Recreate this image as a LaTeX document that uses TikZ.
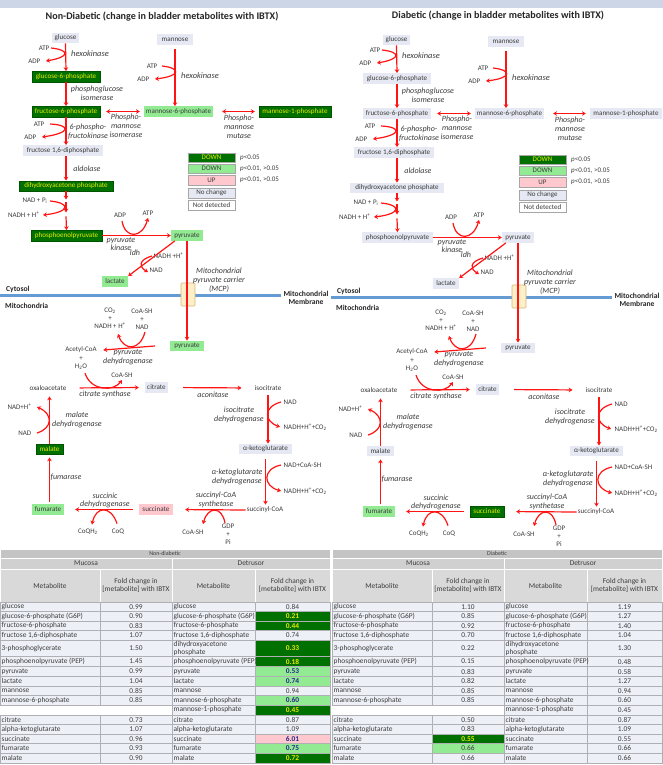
\documentclass[tikz,border=0pt]{standalone}
\usepackage{fontspec}
\setmainfont{Carlito}
\usetikzlibrary{arrows.meta}
\definecolor{dg}{RGB}{0,112,0}
\definecolor{lg}{RGB}{146,234,146}
\definecolor{pk}{RGB}{255,199,206}
\definecolor{nc}{RGB}{230,233,243}
\definecolor{tx}{RGB}{60,60,60}
\definecolor{yl}{RGB}{235,235,0}
\definecolor{rd}{RGB}{255,20,20}
\definecolor{memb}{RGB}{100,155,210}
\definecolor{band}{RGB}{205,214,230}
\definecolor{chanf}{RGB}{253,240,200}
\definecolor{chand}{RGB}{215,180,120}
\definecolor{th1}{RGB}{196,196,196}
\definecolor{th2}{RGB}{208,208,208}
\definecolor{th3}{RGB}{217,217,217}
\definecolor{tc}{RGB}{238,240,247}
\definecolor{tl}{RGB}{175,175,180}
\definecolor{tb}{RGB}{40,40,140}
\definecolor{bot}{RGB}{80,80,160}
\tikzset{
  met/.style={inner xsep=1pt, inner ysep=0pt, minimum height=10.5pt, text=tx, font=\fontsize{7.1}{7.5}\selectfont},
  mDG/.style={met, fill=dg, text=yl, draw=dg!75!black, line width=0.4pt},
  mLG/.style={met, fill=lg},
  mPK/.style={met, fill=pk},
  mNC/.style={met, fill=nc},
  mND/.style={met},
  lbl/.style={font=\fontsize{7}{7.5}\selectfont, text=tx, inner sep=0.5pt, align=center},
  cof3/.style={font=\fontsize{7}{8}\selectfont, text=tx, inner sep=0.5pt, align=center},
  enz/.style={font=\fontsize{8}{8.8}\selectfont\itshape, text=tx, inner sep=0pt, align=center},
  rarr/.style={draw=rd, line width=1.2pt, -{Stealth[length=3.8pt,width=4.6pt]}},
  darr/.style={draw=rd, line width=1.2pt, {Stealth[length=3.8pt,width=4.6pt]}-{Stealth[length=3.8pt,width=4.6pt]}},
  bld/.style={font=\fontsize{7.6}{8.5}\selectfont\bfseries, text=black!85, inner sep=0pt, align=center},
  ttl/.style={font=\fontsize{10.1}{11}\selectfont\bfseries, text=black!85, inner sep=0pt},
  leg/.style={draw=black!35, line width=0.4pt, minimum width=47pt, minimum height=9.5pt, inner sep=0pt, font=\fontsize{7}{7.5}\selectfont, text=tx},
  legt/.style={font=\fontsize{7}{7.5}\selectfont, text=tx, inner sep=0pt, anchor=west},
  tN/.style={fill=tc, draw=tl, line width=0.4pt},
  tDG/.style={fill=dg, draw=tl, line width=0.4pt},
  tLG/.style={fill=lg, draw=tl, line width=0.4pt},
  tLGn/.style={fill=lg, draw=tl, line width=0.4pt},
  tPK/.style={fill=pk, draw=tl, line width=0.4pt},
  tNt/.style={},
  tDGt/.style={text=yl, font=\fontsize{7.4}{8}\selectfont\bfseries},
  tLGt/.style={text=tb, font=\fontsize{7.4}{8}\selectfont\bfseries},
  tLGnt/.style={},
  tPKt/.style={text=tb, font=\fontsize{7.4}{8}\selectfont\bfseries},
  tname/.style={anchor=west, font=\fontsize{7.4}{7.6}\selectfont, text=tx, inner sep=0pt, align=left},
  tval/.style={font=\fontsize{7.4}{8}\selectfont, text=tx, inner sep=0pt, align=center},
}
\newcommand\pathway[1]{%
  \draw[memb, line width=3pt] (0,295) -- (281,295);
  \draw[fill=chanf, draw=chand, line width=0.6pt, rounded corners=1pt] (181,283) rectangle (195,306);
  % metabolites
  \node[cGlc, minimum width=27pt] (#1glc) at (65.5,38) {glucose};
  \node[cMan, minimum width=36pt] (#1man) at (175,39.5) {mannose};
  \node[cG6P, minimum width=68pt] (#1g6p) at (66,76.5) {glucose-6-phosphate};
  \node[cF6P, minimum width=68pt] (#1f6p) at (66,111.5) {fructose-6-phosphate};
  \node[cM6P, minimum width=69pt] (#1m6p) at (178.5,111.5) {mannose-6-phosphate};
  \node[cM1P, minimum width=72pt] (#1m1p) at (295,111.5) {mannose-1-phosphate};
  \node[cFDP, minimum width=80pt] (#1fdp) at (63,150.5) {fructose 1,6-diphosphate};
  \node[cDHAP, minimum width=94pt] (#1dhap) at (66,186) {dihydroxyacetone phosphate};
  \node[cPEP, minimum width=71pt] (#1pep) at (66.5,235.5) {phosphoenolpyruvate};
  \node[cPyr, minimum width=32pt] (#1pyr) at (187,235.5) {pyruvate};
  \node[cLac, minimum width=26pt] (#1lac) at (115,281.5) {lactate};
  \node[cPyrM, minimum width=34pt] (#1pyrm) at (187,346) {pyruvate};
  \node[cCit, minimum width=23pt] (#1cit) at (156.5,387.5) {citrate};
  \node[mND] (#1oaa) at (48,388) {oxaloacetate};
  \node[mND] (#1iso) at (268,388) {isocitrate};
  \node[cAKG, minimum width=53pt] (#1akg) at (265.5,449) {α-ketoglutarate};
  \node[mND] (#1scoa) at (265,510) {succinyl-CoA};
  \node[cSuc, minimum width=34pt] (#1suc) at (156,509.5) {succinate};
  \node[cFum, minimum width=32pt] (#1fum) at (48,509.5) {fumarate};
  \node[cMal, minimum width=27pt] (#1mal) at (49.5,449) {malate};
  % cofactors and enzymes
  \node[lbl, anchor=east] (#1atp1) at (50,48) {ATP};
  \node[lbl, anchor=east] (#1adp1) at (41,61) {ADP};
  \node[enz, font=\fontsize{8.4}{9}\selectfont\itshape] (#1hk1) at (90,54) {hexokinase};
  \node[lbl, anchor=east] (#1atp2) at (158,66) {ATP};
  \node[lbl, anchor=east] (#1adp2) at (150,79) {ADP};
  \node[enz, font=\fontsize{8.4}{9}\selectfont\itshape] (#1hk2) at (200,76) {hexokinase};
  \node[enz] (#1pgi) at (97,93.5) {phosphoglucose\\isomerase};
  \node[enz] (#1pmi) at (126,126) {Phospho-\\mannose\\isomerase};
  \node[enz] (#1pmm) at (239,127) {Phospho-\\mannose\\mutase};
  \node[lbl, anchor=east] (#1atp3) at (45,124) {ATP};
  \node[lbl, anchor=east] (#1adp3) at (37,137) {ADP};
  \node[enz] (#1pfk) at (88,131.5) {6-phospho-\\fructokinase};
  \node[enz] (#1ald) at (87,169) {aldolase};
  \node[lbl, anchor=east] (#1nadp) at (48,201) {NAD + P\textsubscript{i}};
  \node[lbl, anchor=east] (#1nadh1) at (40,215) {NADH + H\textsuperscript{+}};
  \node[lbl] (#1adp4) at (120,215) {ADP};
  \node[lbl] (#1atp4) at (148,213) {ATP};
  \node[enz] (#1pk) at (121,244) {pyruvate\\kinase};
  \node[enz] (#1ldh) at (135,253) {ldh};
  \node[lbl, anchor=west] (#1nadh2) at (153,256) {NADH +H\textsuperscript{+}};
  \node[lbl, anchor=west] (#1nad2) at (149,270) {NAD};
  \node[enz] (#1mcp) at (219,280) {Mitochondrial\\pyruvate carrier\\(MCP)};
  \node[cof3] (#1co2) at (110,318) {CO\textsubscript{2}\\+\\NADH + H\textsuperscript{+}};
  \node[cof3] (#1coa1) at (142,319) {CoA-SH\\+\\NAD};
  \node[lbl] (#1acoa) at (81,350) {Acetyl-CoA};
  \node[cof3] (#1h2o) at (81,363) {+\\H\textsubscript{2}O};
  \node[enz] (#1pdh) at (128,357.5) {pyruvate\\dehydrogenase};
  \node[lbl] (#1coa2) at (122,375) {CoA-SH};
  \node[enz] (#1cs) at (105,394.5) {citrate synthase};
  \node[enz] (#1acon) at (213,394.5) {aconitase};
  \node[lbl, anchor=west] (#1nad3) at (283,402) {NAD};
  \node[lbl, anchor=west] (#1nadh3) at (283,427) {NADH+H\textsuperscript{+}+CO\textsubscript{2}};
  \node[enz] (#1idh) at (239,415) {isocitrate\\dehydrogenase};
  \node[lbl, anchor=west] (#1nad4) at (283,465) {NAD+CoA-SH};
  \node[lbl, anchor=west] (#1nadh4) at (283,491) {NADH+H\textsuperscript{+}+CO\textsubscript{2}};
  \node[enz] (#1kgdh) at (237,477) {α-ketoglutarate\\dehydrogenase};
  \node[enz] (#1scs) at (216,500) {succinyl-CoA\\synthetase};
  \node[lbl] (#1coa3) at (193,532) {CoA-SH};
  \node[cof3] (#1gdp) at (228,534) {GDP\\+\\Pi};
  \node[enz] (#1sdh) at (105,500.5) {succinic\\dehydrogenase};
  \node[lbl] (#1coqh) at (88,532) {CoQH\textsubscript{2}};
  \node[lbl] (#1coq) at (118,532) {CoQ};
  \node[enz] (#1fuma) at (66,477) {fumarase};
  \node[enz] (#1mdh) at (77,420) {malate\\dehydrogenase};
  \node[lbl, anchor=east] (#1nadh5) at (32,407) {NAD+H\textsuperscript{+}};
  \node[lbl, anchor=east] (#1nad5) at (32,433) {NAD};
  \node[bld, anchor=west] (#1cyt) at (6,289) {Cytosol};
  \node[bld, anchor=west] (#1mito) at (5,306) {Mitochondria};
  \node[bld] (#1mm) at (306,298) {Mitochondrial\\Membrane};
  % legend
  \node[leg, fill=dg, text=yl] (#1l1) at (211.5,157.5) {DOWN};
  \node[leg, fill=lg] (#1l2) at (211.5,168.5) {DOWN};
  \node[leg, fill=pk] (#1l3) at (211.5,180) {UP};
  \node[leg, fill=nc] (#1l4) at (211.5,193) {No change};
  \node[leg, fill=white] (#1l5) at (211.5,205) {Not detected};
  \node[legt] (#1p1) at (240,157.5) {\textit{p}<0.05};
  \node[legt] (#1p2) at (240,168.5) {\textit{p}<0.01, >0.05};
  \node[legt] (#1p3) at (240,180) {\textit{p}<0.01, >0.05};
  % main arrows
  \draw[rarr] (#1glc.south) -- (#1g6p.north);
  \draw[rarr, shorten <=4pt] (#1man.south) -- (#1man.south |- #1m6p.north);
  \draw[rarr] (#1g6p.south) -- (#1f6p.north);
  \draw[darr, shorten <=6pt, shorten >=4pt] (#1f6p.east) -- (#1m6p.west);
  \draw[darr, shorten <=9pt, shorten >=4pt] (#1m6p.east) -- (#1m1p.west);
  \draw[rarr] (#1f6p.south) -- (#1f6p.south |- #1fdp.north);
  \draw[rarr] (#1f6p.south |- #1fdp.south) -- (#1f6p.south |- #1dhap.north);
  \draw[rarr] (#1dhap.south) -- ++(0,8);
  \draw[rarr] ([yshift=-11pt]#1dhap.south) -- ++(0,10);
  \draw[rarr] ([yshift=-25pt]#1dhap.south) -- (#1pep.north);
  \draw[rarr] (#1pep.east) -- (#1pyr.west);
  \draw[rarr] ([xshift=4pt]#1pyr.south west) -- (#1lac.north east);
  \draw[rarr] (#1pyr.south) -- (#1pyrm.north);
  \draw[rarr] ([xshift=-15pt]#1pyrm.west) -- ([xshift=6pt]#1acoa.east);
  \draw[rarr, shorten <=12pt, shorten >=6pt] (#1oaa.east) -- (#1cit.west);
  \draw[rarr, shorten <=15pt, shorten >=12pt] (#1cit.east) -- (#1iso.west);
  \draw[rarr, shorten <=2pt] (#1iso.south) -- (#1iso.south |- #1akg.north);
  \draw[rarr, shorten <=5pt] (#1akg.south) -- (#1akg.south |- #1scoa.north);
  \draw[rarr, shorten >=12pt] (#1scoa.west) -- (#1suc.east);
  \draw[rarr, shorten <=6pt, shorten >=11pt] (#1suc.west) -- (#1fum.east);
  \draw[rarr, shorten <=2pt, shorten >=3pt] (#1mal.south |- #1fum.north) -- (#1mal.south);
  \draw[rarr, shorten >=3pt] (#1mal.north) -- (#1mal.north |- #1oaa.south);
  % cofactor curves
  \draw[rarr] ([xshift=1pt]#1atp1.east) .. controls (70,50) and (70,57) .. ([xshift=5pt]#1adp1.east);
  \draw[rarr] ([xshift=4pt]#1atp2.east) .. controls (181,68) and (181,76) .. ([xshift=5pt]#1adp2.east);
  \draw[rarr] ([xshift=5pt]#1atp3.east) .. controls (71,125) and (71,133) .. ([xshift=5pt]#1adp3.east);
  \draw[rarr] ([xshift=2pt]#1nadp.east) .. controls (71,203) and (70,212) .. ([xshift=3pt]#1nadh1.east);
  \draw[rarr] ([xshift=2pt,yshift=-3pt]#1adp4.south) .. controls (125,239) and (142,239) .. ([yshift=-2pt]#1atp4.south);
  \draw[rarr] ([xshift=-1pt]#1nadh2.west) .. controls (138,260) and (139,267) .. ([xshift=-1pt,yshift=-2pt]#1nad2.west);
  \draw[rarr] ([xshift=3pt,yshift=-2pt]#1coa1.south) .. controls (140,351) and (124,351) .. ([xshift=8pt,yshift=-5pt]#1co2.south);
  \draw[rarr] ([xshift=4pt,yshift=-3pt]#1h2o.south) .. controls (91,391.5) and (114,391.5) .. ([yshift=-2pt]#1coa2.south);
  \draw[rarr] ([xshift=-2pt]#1nad3.west) .. controls (263,407) and (264,421) .. ([xshift=-3pt]#1nadh3.west);
  \draw[rarr] ([xshift=-2pt]#1nad4.west) .. controls (262,469) and (263,486) .. ([xshift=-2pt]#1nadh4.west);
  \draw[rarr] ([xshift=-3pt]#1gdp.north) .. controls (222,506) and (208,506) .. ([xshift=10pt,yshift=5pt]#1coa3.north);
  \draw[rarr] ([xshift=-1pt,yshift=5pt]#1coq.north) .. controls (111,505.5) and (96,505.5) .. ([xshift=4pt,yshift=4pt]#1coqh.north);
  \draw[rarr] ([xshift=5pt]#1nad5.east) .. controls (53,428) and (53,414) .. ([xshift=5pt]#1nadh5.east);
}
\newcommand\thead[1]{%
  \path[fill=th1, draw=white, line width=0.5pt] (0,549) rectangle (330,558);
  \node[font=\fontsize{6}{6.5}\selectfont, text=tx, inner sep=0pt] at (165,553.5) {#1};
  \path[fill=th2, draw=white, line width=0.5pt] (0,558) rectangle (172,569) (172,558) rectangle (330,569);
  \node[tval] at (86,563.5) {Mucosa};
  \node[tval] at (251,563.5) {Detrusor};
  \path[fill=th3, draw=white, line width=0.5pt] (0,569) rectangle (100,602) (100,569) rectangle (172,602) (172,569) rectangle (255,602) (255,569) rectangle (330,602);
  \node[tval] at (50,585.5) {Metabolite};
  \node[tval] at (136,585.5) {Fold change in\\{[metabolite]} with IBTX};
  \node[tval] at (213.5,585.5) {Metabolite};
  \node[tval] at (292.5,585.5) {Fold change in\\{[metabolite]} with IBTX};
  \draw[bot, line width=1pt] (0,763.5) -- (330,763.5);
}
\newcommand\trow[8]{%
  \path[tN] (0,#1) rectangle (100,#2);
  \path[#5] (100,#1) rectangle (172,#2);
  \path[tN] (172,#1) rectangle (255,#2);
  \path[#8] (255,#1) rectangle (330,#2);
  \node[tname] at (1.5,{(#1+#2)/2}) {#3};
  \node[tval,#5t] at (136,{(#1+#2)/2}) {#4};
  \node[tname] at (173.5,{(#1+#2)/2}) {#6};
  \node[tval,#8t] at (292.5,{(#1+#2)/2}) {#7};
}
\newcommand\trowB[3]{%
  \path[tN] (172,#1) rectangle (255,#2);
  \path[#3] (255,#1) rectangle (330,#2);
  \node[tname] at (173.5,{(#1+#2)/2}) {mannose-1-phosphate};
  \node[tval,#3t] at (292.5,{(#1+#2)/2}) {0.45};
}
\begin{document}
\begin{tikzpicture}[x=1pt, y=-1pt]
\useasboundingbox (0,0) rectangle (663,765);
\fill[white] (0,0) rectangle (663,765);
\fill[band] (0,0) rectangle (663,8);
\node[ttl] (t1) at (162,17) {Non-Diabetic (change in bladder metabolites with IBTX)};
\node[ttl] (t2) at (498,16) {Diabetic (change in bladder metabolites with IBTX)};
\begin{scope}[cGlc/.style=mNC, cMan/.style=mNC, cG6P/.style=mDG, cF6P/.style=mDG, cM6P/.style=mLG, cM1P/.style=mDG, cFDP/.style=mNC, cDHAP/.style=mDG, cPEP/.style=mDG, cPyr/.style=mLG, cLac/.style=mLG, cPyrM/.style=mLG, cCit/.style=mNC, cAKG/.style=mNC, cSuc/.style=mPK, cFum/.style=mLG, cMal/.style=mDG]
\pathway{L}
\end{scope}
\begin{scope}[shift={(331,2)}, cGlc/.style=mNC, cMan/.style=mNC, cG6P/.style=mNC, cF6P/.style=mNC, cM6P/.style=mNC, cM1P/.style=mNC, cFDP/.style=mNC, cDHAP/.style=mNC, cPEP/.style=mNC, cPyr/.style=mNC, cLac/.style=mNC, cPyrM/.style=mNC, cCit/.style=mNC, cAKG/.style=mNC, cSuc/.style=mDG, cFum/.style=mLG, cMal/.style=mNC]
\pathway{R}
\end{scope}
% left table
\begin{scope}
\thead{Non-diabetic}
\trow{602}{611.5}{glucose}{0.99}{tN}{glucose}{0.84}{tN}
\trow{611.5}{621}{glucose-6-phosphate (G6P)}{0.90}{tN}{glucose-6-phosphate (G6P)}{0.21}{tDG}
\trow{621}{630.5}{fructose-6-phosphate}{0.83}{tN}{fructose-6-phosphate}{0.44}{tDG}
\trow{630.5}{640}{fructose 1,6-diphosphate}{1.07}{tN}{fructose 1,6-diphosphate}{0.74}{tN}
\trow{640}{656.5}{3-phosphoglycerate}{1.50}{tN}{dihydroxyacetone\\phosphate}{0.33}{tDG}
\trow{656.5}{666.5}{phosphoenolpyruvate (PEP)}{1.45}{tN}{phosphoenolpyruvate (PEP)}{0.18}{tDG}
\trow{666.5}{676.5}{pyruvate}{0.99}{tN}{pyruvate}{0.53}{tLG}
\trow{676.5}{686}{lactate}{1.04}{tN}{lactate}{0.74}{tLG}
\trow{686}{695.5}{mannose}{0.85}{tN}{mannose}{0.94}{tN}
\trow{695.5}{705}{mannose-6-phosphate}{0.85}{tN}{mannose-6-phosphate}{0.60}{tLG}
\trowB{705}{715}{tDG}
\trow{715}{724.5}{citrate}{0.73}{tN}{citrate}{0.87}{tN}
\trow{724.5}{734}{alpha-ketoglutarate}{1.07}{tN}{alpha-ketoglutarate}{1.09}{tN}
\trow{734}{743.5}{succinate}{0.96}{tN}{succinate}{6.01}{tPK}
\trow{743.5}{753}{fumarate}{0.93}{tN}{fumarate}{0.75}{tLG}
\trow{753}{763}{malate}{0.90}{tN}{malate}{0.72}{tDG}
\end{scope}
% right table
\begin{scope}[shift={(332,0)}]
\thead{Diabetic}
\trow{602}{611.5}{glucose}{1.10}{tN}{glucose}{1.19}{tN}
\trow{611.5}{621}{glucose-6-phosphate (G6P)}{0.85}{tN}{glucose-6-phosphate (G6P)}{1.27}{tN}
\trow{621}{630.5}{fructose-6-phosphate}{0.92}{tN}{fructose-6-phosphate}{1.40}{tN}
\trow{630.5}{640}{fructose 1,6-diphosphate}{0.70}{tN}{fructose 1,6-diphosphate}{1.04}{tN}
\trow{640}{656.5}{3-phosphoglycerate}{0.22}{tN}{dihydroxyacetone\\phosphate}{1.30}{tN}
\trow{656.5}{666.5}{phosphoenolpyruvate (PEP)}{0.15}{tN}{phosphoenolpyruvate (PEP)}{0.48}{tN}
\trow{666.5}{676.5}{pyruvate}{0.83}{tN}{pyruvate}{0.58}{tN}
\trow{676.5}{686}{lactate}{0.82}{tN}{lactate}{1.27}{tN}
\trow{686}{695.5}{mannose}{0.85}{tN}{mannose}{0.94}{tN}
\trow{695.5}{705}{mannose-6-phosphate}{0.85}{tN}{mannose-6-phosphate}{0.60}{tN}
\trowB{705}{715}{tN}
\trow{715}{724.5}{citrate}{0.50}{tN}{citrate}{0.87}{tN}
\trow{724.5}{734}{alpha-ketoglutarate}{0.83}{tN}{alpha-ketoglutarate}{1.09}{tN}
\trow{734}{743.5}{succinate}{0.55}{tDG}{succinate}{0.55}{tN}
\trow{743.5}{753}{fumarate}{0.66}{tLGn}{fumarate}{0.66}{tN}
\trow{753}{763}{malate}{0.66}{tN}{malate}{0.66}{tN}
\end{scope}
\end{tikzpicture}
\end{document}
